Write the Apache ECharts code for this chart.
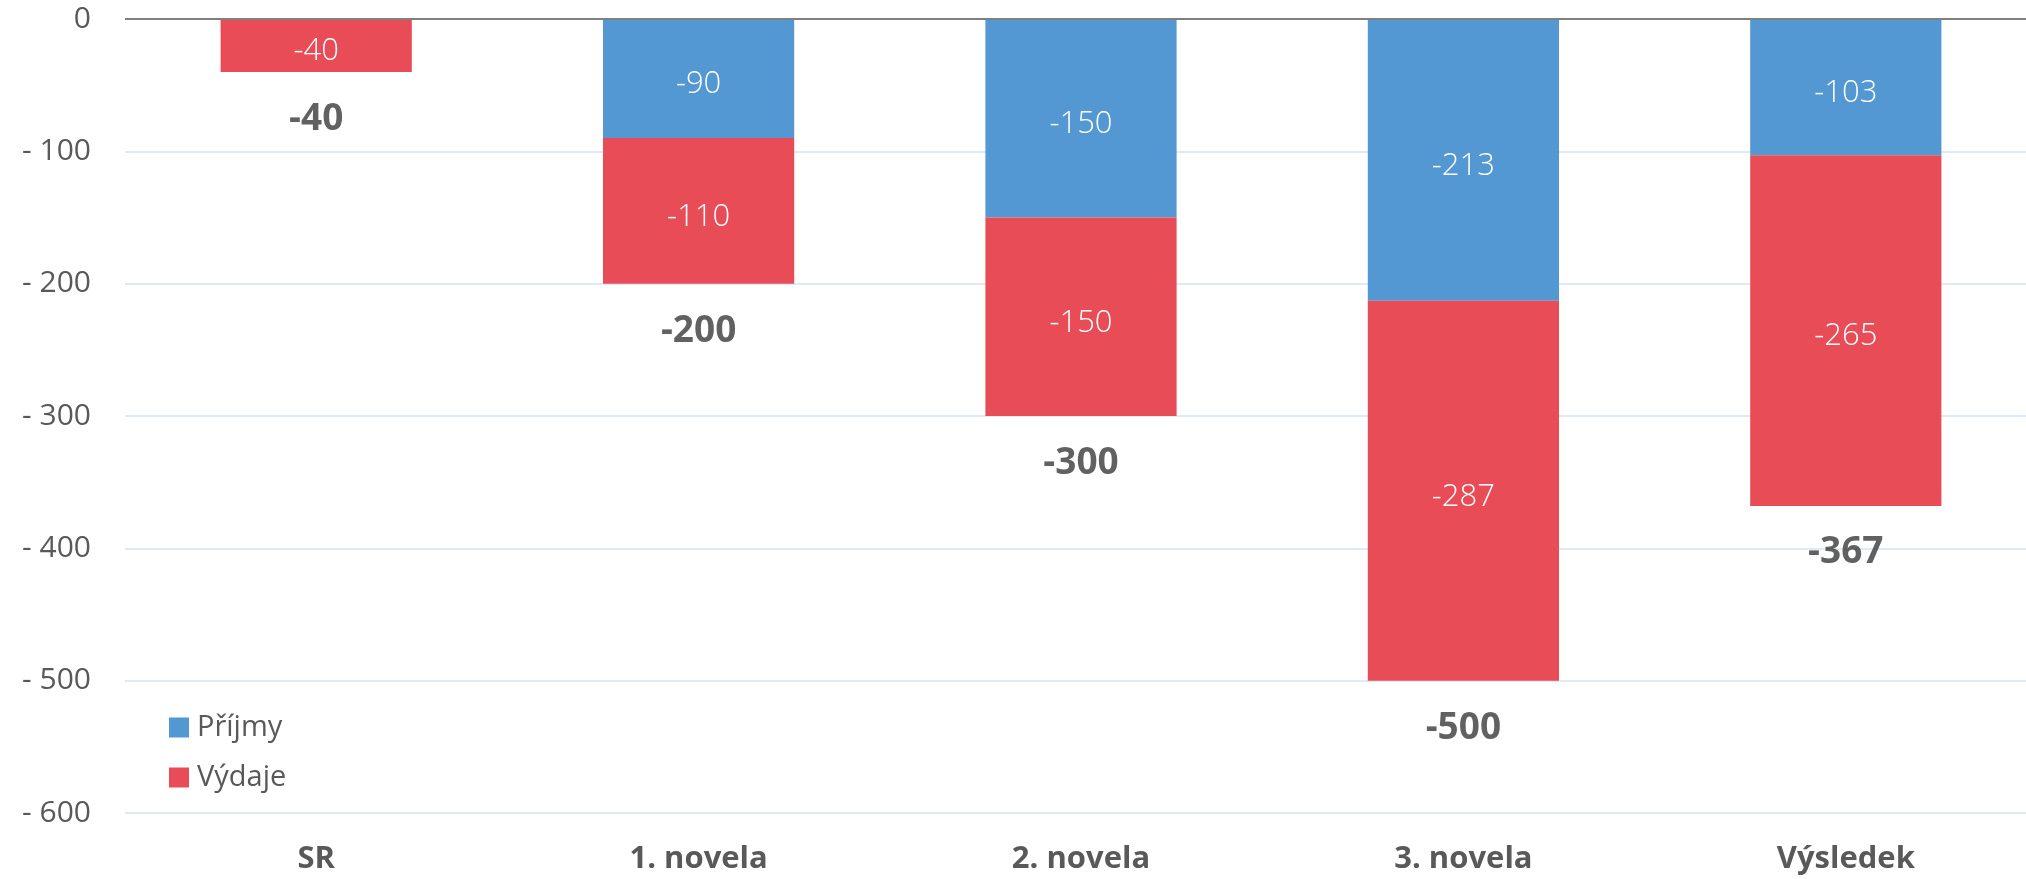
<!DOCTYPE html>
<html>
<head>
<meta charset="utf-8">
<title>Saldo</title>
<script src="https://cdn.jsdelivr.net/npm/echarts@6/dist/echarts.min.js"></script>
<style>
  html, body { margin: 0; padding: 0; background: #fff; }
  #chart { width: 2026px; height: 879px; }
</style>
</head>
<body>
<div id="chart"></div>
<script>
var categories = ['SR', '1. novela', '2. novela', '3. novela', 'Výsledek']
var prijmy = [null, -90, -150, -213, -103]
var vydaje = [-40, -110, -150, -287, -265]
var totals = [-40, -200, -300, -500, -367]
var yTicks = [-600, 0, 100]   // min, max, interval

var font = '"Open Sans", "Noto Sans", sans-serif'
var blue = '#5397d3'
var red = '#e84c56'

var echart = echarts.init(document.getElementById('chart'))

function segLabel(p) {
    return p.value ? String(p.value) : ''
}

var option = {
    backgroundColor: '#fff',
    animation: false,
    // plocha grafu přesahuje vpravo za okraj
    grid: {
        left: 125, width: 1912, top: 19, bottom: 66,
        containLabel: false,
        outerBoundsMode: 'none'
    },
    legend: {
        orient: 'vertical',
        left: 164,
        top: 708,
        data: ['Příjmy', 'Výdaje'],
        icon: 'rect',
        itemWidth: 20,
        itemHeight: 20,
        itemGap: 21,
        textStyle: { fontFamily: font, fontSize: 29, color: '#595959', padding: [0, 0, 0, 3] }
    },
    xAxis: {
        type: 'category',
        data: categories,
        axisLine: { show: false, onZero: false },
        axisTick: { show: false },
        axisLabel: {
            margin: 31,
            fontFamily: font,
            fontSize: 31,
            fontWeight: 'bold',
            color: '#595959'
        }
    },
    yAxis: {
        type: 'value',
        min: yTicks[0],
        max: yTicks[1],
        interval: yTicks[2],
        axisLine: { show: false },
        axisTick: { show: false },
        splitLine: { lineStyle: { color: '#d5e3f0', width: 1.5 } },
        axisLabel: {
            margin: 34,
            fontFamily: font,
            fontSize: 30,
            color: '#595959',
            formatter: function (v) { return v < 0 ? '- ' + Math.abs(v) : String(v) }
        }
    },
    series: [
        {
            name: 'Příjmy',
            type: 'bar',
            stack: 'saldo',
            barWidth: '50%',
            data: prijmy,
            itemStyle: { color: blue },
            label: {
                show: true,
                position: 'inside',
                offset: [0, 6],
                formatter: segLabel,
                fontFamily: font,
                fontSize: 31,
                fontWeight: 300,
                color: '#fff'
            },
            markLine: {
                silent: true,
                symbol: 'none',
                label: { show: false },
                lineStyle: { color: '#808080', width: 2, type: 'solid' },
                data: [{ yAxis: 0 }]
            }
        },
        {
            name: 'Výdaje',
            type: 'bar',
            stack: 'saldo',
            data: vydaje,
            itemStyle: { color: red },
            label: {
                show: true,
                position: 'inside',
                offset: [0, 6],
                formatter: segLabel,
                fontFamily: font,
                fontSize: 31,
                fontWeight: 300,
                color: '#fff'
            }
        },
        { //celkový součet pod sloupcem
            name: 'Celkem',
            type: 'scatter',
            data: totals,
            symbolSize: 0,
            silent: true,
            label: {
                show: true,
                position: 'bottom',
                distance: 29,
                formatter: function (p) { return String(p.value) },
                fontFamily: font,
                fontSize: 37,
                fontWeight: 'bold',
                color: '#3a3a3a'
            }
        }
    ]
}

echart.setOption(option)
</script>
</body>
</html>
